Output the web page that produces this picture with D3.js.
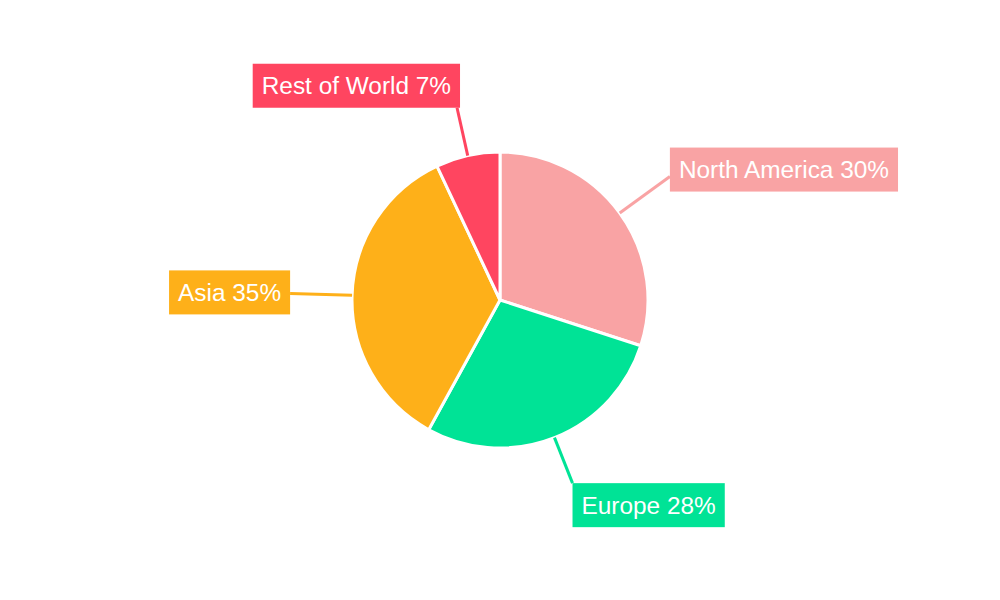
<!DOCTYPE html>
<html>
<head>
<meta charset="utf-8">
<script src="https://cdn.jsdelivr.net/npm/d3@7"></script>
<style>
  body { margin: 0; background: #fff; }
  text { font-family: "Liberation Sans", Arial, sans-serif; }
</style>
</head>
<body>
<div class="chart"></div>
<script>
// data
const regions = ['North America', 'Europe', 'Asia', 'Rest of World'];
const shares = [30, 28, 35, 7];
const colors = ['#F9A3A4', '#00E396', '#FEB019', '#FF4560'];

const w = 1000;
const h = 600;
const r = 148;
const cx = 500, cy = 300;

const data = regions.map((name, i) => ({name, value: shares[i], color: colors[i]}));

const svg = d3.select('.chart')
  .append('svg')
  .attr('width', w)
  .attr('height', h);

const g = svg.append('g')
  .attr('transform', `translate(${cx}, ${cy})`);

const pie = d3.pie()
  .value(d => d.value)
  .sort(null);

const arc = d3.arc()
  .innerRadius(0)
  .outerRadius(r);

const arcs = pie(data);

g.selectAll('path')
  .data(arcs)
  .enter()
  .append('path')
  .attr('d', arc)
  .attr('fill', d => d.data.color)
  .attr('stroke', '#fff')
  .attr('stroke-width', 3);

// label leaders: straight radial line out from the slice edge
const pad = 9;
const boxH = 44;

const labels = g.selectAll('.label')
  .data(arcs)
  .enter()
  .append('g')
  .attr('class', 'label');

labels.each(function(d) {
  const mid = (d.startAngle + d.endAngle) / 2;
  const ux = Math.sin(mid), uy = -Math.cos(mid);
  const vertical = Math.abs(uy) > 0.9; // label above/below rather than beside
  const lineLen = vertical ? 49 : 62;
  const x0 = ux * r, y0 = uy * r;
  const x1 = ux * (r + lineLen), y1 = uy * (r + lineLen);
  const sel = d3.select(this);

  sel.append('line')
    .attr('x1', x0).attr('y1', y0)
    .attr('x2', x1).attr('y2', y1)
    .attr('stroke', d.data.color)
    .attr('stroke-width', 3);

  const txt = sel.append('text')
    .attr('font-size', 24.4)
    .attr('fill', '#fff')
    .text(`${d.data.name} ${d.data.value}%`);
  const tw = txt.node().getComputedTextLength();
  const bw = tw + pad * 2;

  let bx = ux >= 0 ? x1 : x1 - bw;
  let by;
  if (vertical) {
    by = uy < 0 ? y1 - boxH : y1;
    if (uy < 0) bx = x1 - bw + 3;
  } else {
    by = y1 - boxH / 2 - (uy < -0.3 ? 7 : 1);
  }

  sel.insert('rect', 'text')
    .attr('x', bx).attr('y', by)
    .attr('width', bw).attr('height', boxH)
    .attr('fill', d.data.color);

  txt.attr('x', bx + pad)
    .attr('y', by + boxH / 2)
    .attr('dy', '0.35em');
});
</script>
</body>
</html>
